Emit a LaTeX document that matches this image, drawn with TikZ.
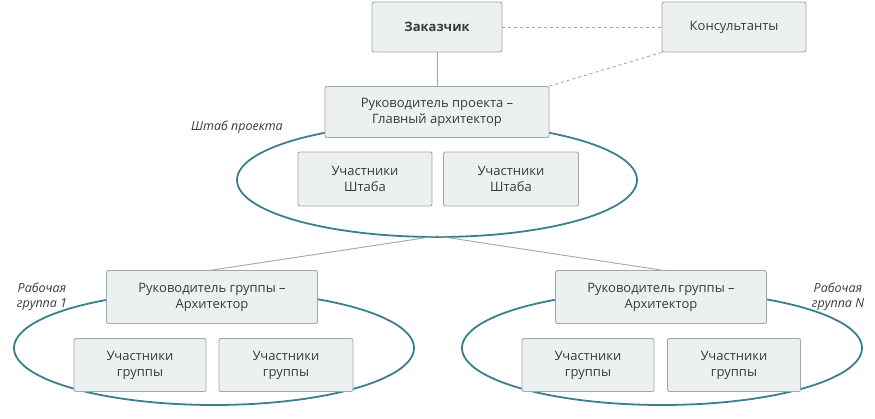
\documentclass[tikz,border=0pt]{standalone}
\usepackage{fontspec}
\setmainfont{Open Sans}
\begin{document}
\begin{tikzpicture}[x=1pt,y=-1pt,
 box/.style={draw=boxline,fill=boxfill,rounded corners=2pt,line width=0.9pt,align=center,font=\fontsize{13}{16}\selectfont,text=txt,inner sep=0pt},
 ring/.style={draw=teal2,line width=1.8pt},
 lbl/.style={font=\itshape\fontsize{12.5}{15}\selectfont,text=txt,align=center},
 ln/.style={draw=boxline,line width=0.9pt},
 dsh/.style={draw=boxline,line width=0.9pt,dashed}]
\definecolor{boxline}{HTML}{9FA8A8}
\definecolor{boxfill}{HTML}{EDF0F0}
\definecolor{teal2}{HTML}{3C7F8C}
\definecolor{txt}{HTML}{3A3A3A}
\useasboundingbox (0,0) rectangle (875,419);
\draw[ring] (437,180) ellipse [x radius=200, y radius=57];
\draw[ring] (214,348) ellipse [x radius=200, y radius=57];
\draw[ring] (662,348) ellipse [x radius=200, y radius=57];
\coordinate (hub) at (437,236);
\node[box,minimum width=130,minimum height=50,font=\bfseries\fontsize{13}{16}\selectfont] (z) at (437,27) {Заказчик};
\node[box,minimum width=144,minimum height=50] (k) at (734,27) {Консультанты};
\node[box,minimum width=224,minimum height=51] (r) at (437,112) {Руководитель проекта –\\Главный архитектор};
\node[box,minimum width=134,minimum height=54] (s1) at (365,179) {Участники\\Штаба};
\node[box,minimum width=135,minimum height=54] (s2) at (511,179) {Участники\\Штаба};
\node[lbl] (ls) at (237,127) {Штаб проекта};
\node[box,minimum width=211,minimum height=53] (g1) at (212,297) {Руководитель группы –\\Архитектор};
\node[box,minimum width=132,minimum height=53] (a1) at (140,365) {Участники\\группы};
\node[box,minimum width=134,minimum height=53] (a2) at (286,365) {Участники\\группы};
\node[box,minimum width=211,minimum height=53] (g2) at (661,297) {Руководитель группы –\\Архитектор};
\node[box,minimum width=132,minimum height=53] (b1) at (588,365) {Участники\\группы};
\node[box,minimum width=133,minimum height=53] (b2) at (734,365) {Участники\\группы};
\node[lbl] (l1) at (42,297) {Рабочая\\группа 1};
\node[lbl] (l2) at (838,297) {Рабочая\\группа N};
\draw[ln] (z) -- (r);
\draw[dsh] (z.east) -- (k.west);
\draw[dsh] (k.south west) -- (r.north east);
\draw[ln] (hub) -- (g1.north);
\draw[ln] (hub) -- (g2.north);
\end{tikzpicture}
\end{document}
